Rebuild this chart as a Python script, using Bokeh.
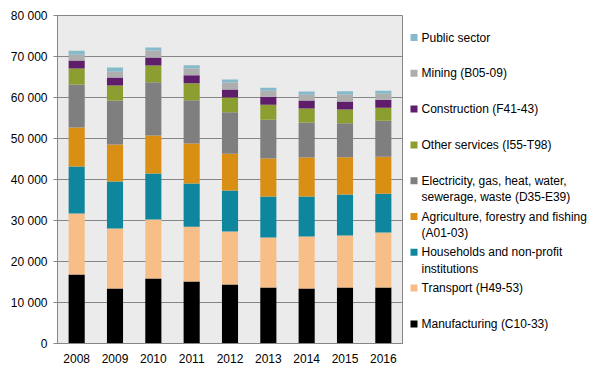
from bokeh.plotting import figure
from bokeh.layouts import row
from bokeh.models import Range1d, FactorRange, ColumnDataSource
from bokeh.embed import file_html
from bokeh.resources import INLINE
from bokeh.core.properties import value

years = ["2008", "2009", "2010", "2011", "2012", "2013", "2014", "2015", "2016"]

manufacturing = [16800, 13400, 15850, 15100, 14400, 13650, 13400, 13650, 13650]
transport = [14900, 14650, 14400, 13400, 12900, 12200, 12700, 12700, 13400]
households = [11500, 11450, 11200, 10550, 10000, 10000, 9750, 10000, 9500]
agriculture = [9500, 9050, 9300, 9750, 9000, 9250, 9500, 9050, 9000]
electricity = [10500, 10700, 12950, 10500, 10100, 9500, 8550, 8300, 8800]
other_services = [3900, 3650, 4100, 4150, 3600, 3650, 3400, 3400, 3150]
construction = [1900, 1950, 1950, 1950, 1950, 1950, 1950, 1950, 1950]
mining = [1400, 1450, 1700, 1700, 1700, 1450, 1450, 1700, 1450]
public_sector = [1000, 1000, 750, 750, 750, 750, 750, 750, 750]

series_keys = ["manufacturing", "transport", "households", "agriculture",
               "electricity", "other_services", "construction", "mining", "public_sector"]
series_labels = [
    "Manufacturing (C10-33)",
    "Transport (H49-53)",
    "Households and non-profit\ninstitutions",
    "Agriculture, forestry and fishing\n(A01-03)",
    "Electricity, gas, heat, water,\nsewerage, waste (D35-E39)",
    "Other services (I55-T98)",
    "Construction (F41-43)",
    "Mining (B05-09)",
    "Public sector",
]
colors = ["#000000", "#F7BE87", "#0E879E", "#D98F14", "#7F7F80",
          "#8D9E31", "#5F1E6A", "#AEAEAE", "#86BAC9"]

y_ticks = [0, 10000, 20000, 30000, 40000, 50000, 60000, 70000, 80000]
y_tick_labels = ["0", "10 000", "20 000", "30 000", "40 000", "50 000", "60 000", "70 000", "80 000"]

FONT = "Liberation Sans"
FS = "12px"
TEXT_COLOR = "#000000"
GRID = "#868686"
TOP, BOTTOM = 15, 33
H = 376

source = ColumnDataSource(dict(
    years=years,
    manufacturing=manufacturing, transport=transport, households=households,
    agriculture=agriculture, electricity=electricity, other_services=other_services,
    construction=construction, mining=mining, public_sector=public_sector,
))

p = figure(x_range=FactorRange(*years), y_range=Range1d(0, 80000),
           width=405, height=H, output_backend="svg", toolbar_location=None,
           min_border_left=57, min_border_right=3, min_border_top=TOP, min_border_bottom=BOTTOM)
p.vbar_stack(series_keys, x="years", width=0.42, color=colors, source=source, line_width=0)

p.background_fill_color = "#EBEBEB"
p.border_fill_color = "white"
p.outline_line_color = GRID
p.outline_line_width = 1
p.xgrid.visible = False
p.ygrid.grid_line_color = GRID
p.ygrid.grid_line_width = 1
p.ygrid.ticker = y_ticks

p.yaxis.ticker = y_ticks
p.yaxis.major_label_overrides = {t: l for t, l in zip(y_ticks, y_tick_labels)}
p.yaxis.axis_line_color = GRID
p.yaxis.major_tick_line_color = GRID
p.yaxis.major_tick_out = 4
p.yaxis.major_tick_in = 0
p.yaxis.minor_tick_line_color = None
p.yaxis.major_label_text_font = FONT
p.yaxis.major_label_text_font_size = FS
p.yaxis.major_label_text_color = TEXT_COLOR
p.yaxis.major_label_standoff = 6

p.xaxis.axis_line_color = GRID
p.xaxis.major_tick_line_color = None
p.xaxis.minor_tick_line_color = None
p.xaxis.major_label_text_font = FONT
p.xaxis.major_label_text_font_size = FS
p.xaxis.major_label_text_color = TEXT_COLOR
p.xaxis.major_label_standoff = 4

# legend panel (frame aligned with main plot frame; y range in pixel units)
lg = figure(width=200, height=H, x_range=Range1d(0, 200), y_range=Range1d(H - BOTTOM, TOP),
            output_backend="svg", toolbar_location=None,
            min_border_left=0, min_border_right=0, min_border_top=TOP, min_border_bottom=BOTTOM,
            outline_line_color=None)
lg.axis.visible = False
lg.grid.visible = False
lg.border_fill_color = "white"
lg.background_fill_color = "white"

order = list(range(len(series_labels)))[::-1]
item_y0 = 37
stride = 35.8
mx, my, tx, ty, tt = [], [], [], [], []
mcol = []
for k, i in enumerate(order):
    y = item_y0 + k * stride
    mx.append(8.5)
    my.append(y)
    mcol.append(colors[i])
    for j, line in enumerate(series_labels[i].split("\n")):
        tx.append(16)
        ty.append(y + j * 16.5)
        tt.append(line)

lg.rect(x=mx, y=my, width=7, height=7, width_units="screen", height_units="screen",
        fill_color=mcol, line_color=None)
lg.text(x=tx, y=ty, text=tt, text_font=value(FONT), text_font_size=FS,
        text_baseline="middle", text_align="left", text_color=TEXT_COLOR)

layout = row(p, lg)
open("out.html", "w").write(file_html(layout, INLINE))
